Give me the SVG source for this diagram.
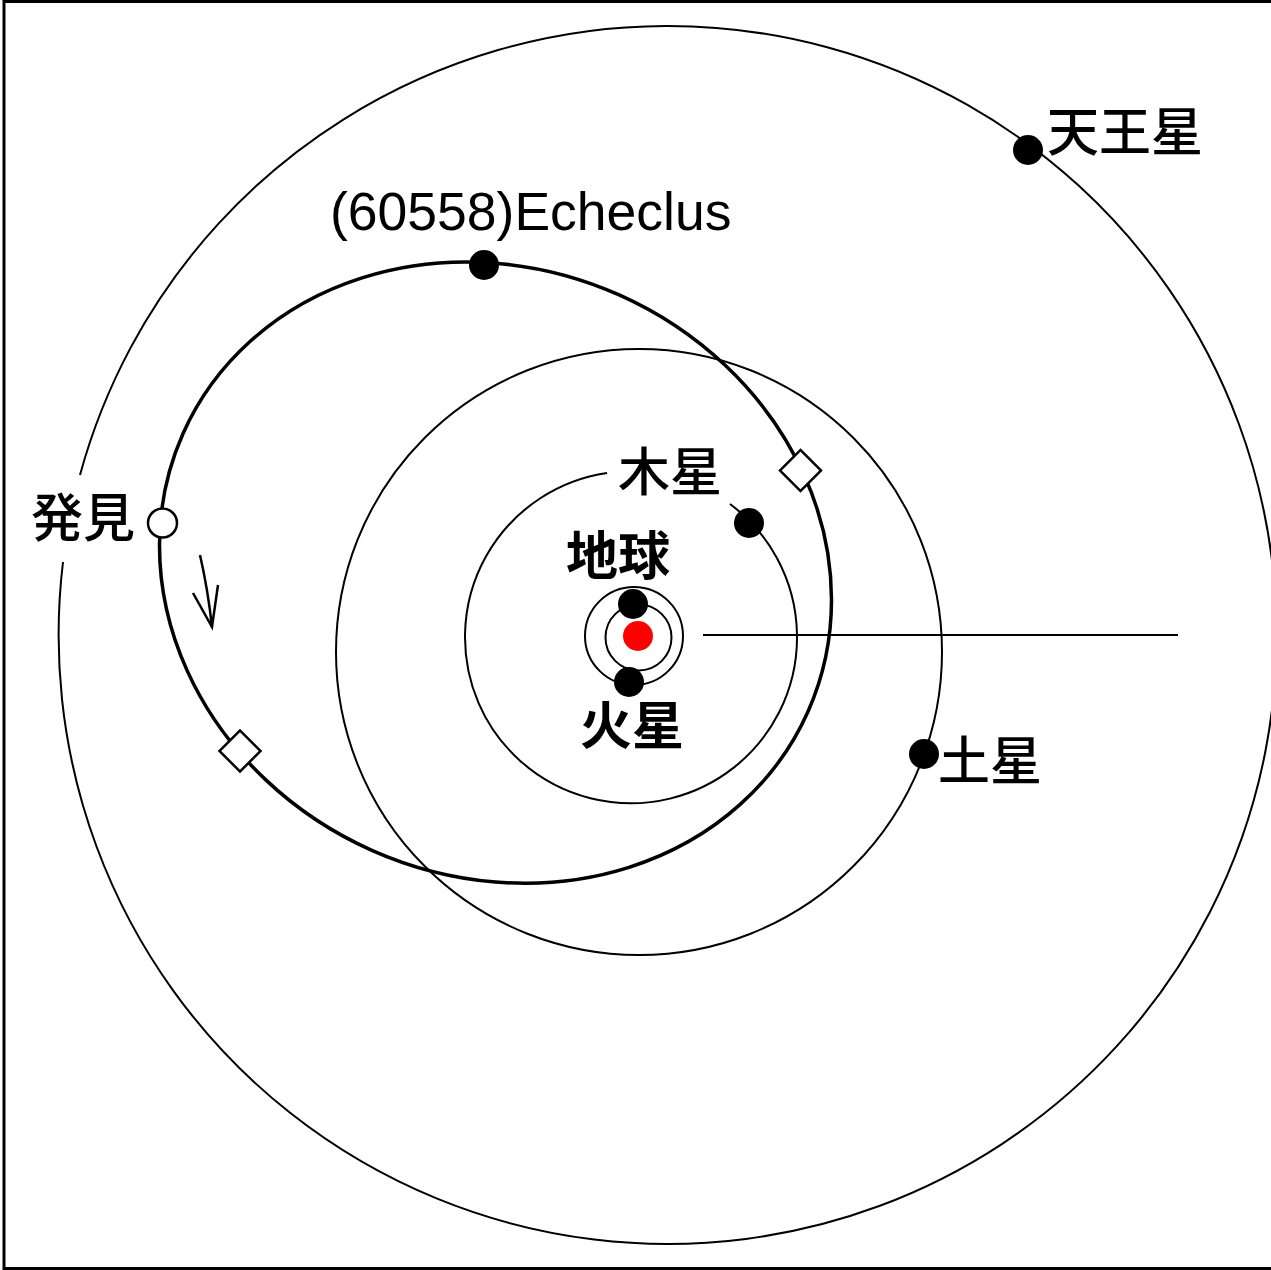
<svg xmlns="http://www.w3.org/2000/svg" width="1271" height="1270" viewBox="0 0 1271 1270">
<style>
.orb{fill:none;stroke:#000;stroke-width:2}
.thick{fill:none;stroke:#000;stroke-width:3.5}
.dot{fill:#000}
.lbl{font-family:"Noto Sans CJK JP","Noto Sans CJK SC",sans-serif;font-size:52px;font-weight:500;fill:#000}
.b{font-weight:700}
.en{font-family:"Liberation Sans",Arial,sans-serif;font-size:53.5px;fill:#000}
.node{fill:#fff;stroke:#000;stroke-width:2.5}
</style>
<rect x="0" y="0" width="1271" height="1270" fill="#fff"/>
<rect x="4" y="1.5" width="1300" height="1267" fill="none" stroke="#000" stroke-width="3"/>
<g id="connectors">
<path id="uranus-orbit" class="orb" d="M 80 475 A 609 609 0 1 1 63 562"/>
<circle id="saturn-orbit" class="orb" cx="639" cy="652" r="303"/>
<path id="jupiter-orbit" class="orb" d="M 607 473 A 166 166 0 1 0 730 504"/>
<circle id="mars-orbit" class="orb" cx="634" cy="636" r="49" stroke-width="2.5"/>
<circle id="earth-orbit" class="orb" cx="638.5" cy="637.5" r="33" stroke-width="2.5"/>
<ellipse id="echeclus-orbit" class="thick" cx="495.5" cy="572.6" rx="342" ry="304" transform="rotate(24 495.5 572.6)"/>
<line id="equinox" x1="703" y1="635" x2="1178" y2="635" stroke="#000" stroke-width="2"/>
<g id="motion-arrow" fill="none" stroke="#000" stroke-width="2.5">
<path d="M 200 555 Q 208 590 212 627"/>
<path d="M 193 593 L 212 627 L 218 585"/>
</g>
</g>
<g id="sun"><circle cx="638" cy="636" r="15" fill="#f00"/></g>
<g id="earth"><circle class="dot" cx="633" cy="604" r="15"/><text class="lbl b" x="566" y="575">地球</text></g>
<g id="mars"><circle class="dot" cx="629" cy="682" r="15"/><text class="lbl b" x="580" y="745">火星</text></g>
<g id="jupiter"><circle class="dot" cx="749" cy="523" r="15"/><text class="lbl" x="618" y="491">木星</text></g>
<g id="saturn"><circle class="dot" cx="924" cy="754" r="15"/><text class="lbl" x="938" y="780">土星</text></g>
<g id="uranus"><circle class="dot" cx="1028" cy="150" r="15"/><text class="lbl" x="1047" y="151">天王星</text></g>
<g id="echeclus"><circle class="dot" cx="484" cy="265" r="15"/><text class="en" x="330" y="230">(60558)Echeclus</text></g>
<g id="discovery"><circle cx="162.5" cy="523" r="14.5" fill="#fff" stroke="#000" stroke-width="2.5"/><text class="lbl" x="31" y="537">発見</text></g>
<g id="node1"><rect class="node" x="786" y="456" width="29" height="29" transform="rotate(45 800.5 470.5)"/></g>
<g id="node2"><rect class="node" x="225.5" y="736.5" width="29" height="29" transform="rotate(45 240 751)"/></g>
</svg>
